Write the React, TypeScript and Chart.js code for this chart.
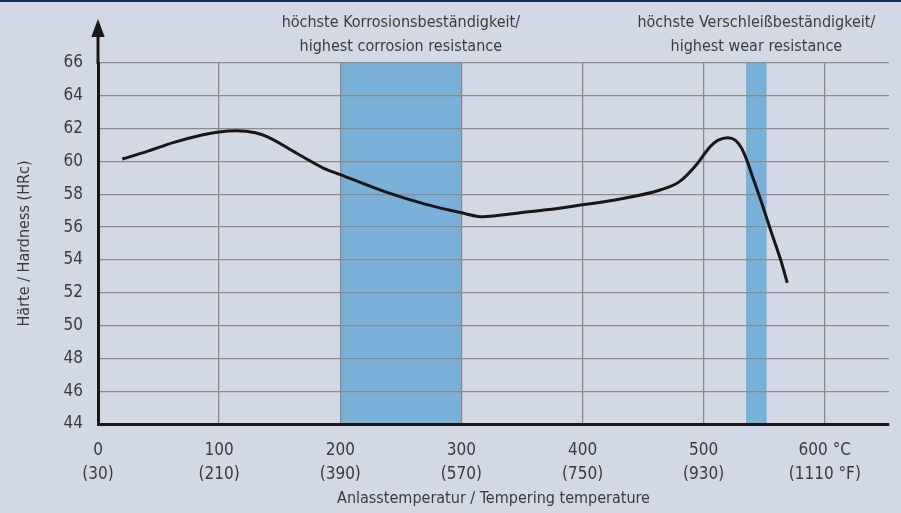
import React, { useEffect, useRef } from "react";
import { Chart, registerables } from "chart.js";

Chart.register(...registerables);

// Data
const temperatureC = [20, 40, 62, 85, 100, 114, 130, 140, 164, 186, 200, 241, 270, 300, 318, 340, 370, 398, 430, 464, 480, 494, 500, 506, 512, 520, 526, 531, 535, 540, 548, 556, 564, 569];
const hardnessHRC = [60.15, 60.6, 61.15, 61.6, 61.8, 61.87, 61.75, 61.5, 60.5, 59.6, 59.2, 58.05, 57.4, 56.87, 56.63, 56.8, 57.05, 57.34, 57.7, 58.26, 58.77, 59.8, 60.4, 60.95, 61.3, 61.45, 61.3, 60.85, 60.2, 59.15, 57.45, 55.65, 53.9, 52.6];

const xTicksC = [0, 100, 200, 300, 400, 500, 600];
const xTicksF = ["(30)", "(210)", "(390)", "(570)", "(750)", "(930)", "(1110 °F)"];

const bandStart = [200, 535];
const bandEnd = [300, 552];
const bandLabels = [
  ["höchste Korrosionsbeständigkeit/", "highest corrosion resistance"],
  ["höchste Verschleißbeständigkeit/", "highest wear resistance"],
];

const FONT = "'DejaVu Sans Condensed', 'Liberation Sans Narrow', sans-serif";
const TEXT = "#3a3a3a";
const BG = "#d2d9e5";
const BAND = "#79b0d8";

const decorPlugin = {
  id: "decor",
  beforeDraw(chart: any) {
    const { ctx, chartArea, scales } = chart;
    ctx.save();
    ctx.fillStyle = BG;
    ctx.fillRect(0, 0, chart.width, chart.height);
    ctx.fillStyle = "#0f2d55";
    ctx.fillRect(0, 0, chart.width, 2);
    ctx.fillStyle = BAND;
    for (let i = 0; i < bandStart.length; i++) {
      const x1 = scales.x.getPixelForValue(bandStart[i]);
      const x2 = scales.x.getPixelForValue(bandEnd[i]);
      ctx.fillRect(x1, chartArea.top, x2 - x1, chartArea.bottom - chartArea.top);
    }
    ctx.restore();
  },
  afterDraw(chart: any) {
    const { ctx, chartArea, scales } = chart;
    ctx.save();
    // y axis arrow
    const x = chartArea.left;
    ctx.strokeStyle = "#1a1718";
    ctx.lineWidth = 3;
    ctx.beginPath();
    ctx.moveTo(x, chartArea.top + 1);
    ctx.lineTo(x, 36);
    ctx.stroke();
    ctx.fillStyle = "#1a1718";
    ctx.beginPath();
    ctx.moveTo(x, 19);
    ctx.lineTo(x - 6.7, 37);
    ctx.lineTo(x + 6.7, 37);
    ctx.closePath();
    ctx.fill();
    // band labels
    ctx.fillStyle = TEXT;
    ctx.font = `16px ${FONT}`;
    ctx.textAlign = "center";
    ctx.textBaseline = "middle";
    for (let i = 0; i < bandStart.length; i++) {
      const cx = (scales.x.getPixelForValue(bandStart[i]) + scales.x.getPixelForValue(bandEnd[i])) / 2;
      ctx.fillText(bandLabels[i][0], cx, 23);
      ctx.fillText(bandLabels[i][1], cx, 47);
    }
    ctx.restore();
  },
};

export default function App() {
  const ref = useRef<HTMLCanvasElement>(null);
  useEffect(() => {
    document.body.style.margin = "0";
    const chart = new Chart(ref.current!, {
      type: "line",
      data: {
        datasets: [
          {
            data: temperatureC.map((t, i) => ({ x: t, y: hardnessHRC[i] })),
            borderColor: "#1a1617",
            borderWidth: 3,
            pointRadius: 0,
            cubicInterpolationMode: "monotone",
            fill: false,
          },
        ],
      },
      options: {
        animation: false,
        responsive: false,
        layout: { padding: { top: 63, right: 12, left: 0, bottom: 0 } },
        plugins: { legend: { display: false }, tooltip: { enabled: false } },
        scales: {
          x: {
            type: "linear",
            min: 0,
            max: 653,
            afterFit: (s: any) => { s.height = 89; },
            afterBuildTicks: (s: any) => { s.ticks = xTicksC.map((v) => ({ value: v })); },
            ticks: {
              autoSkip: false,
              maxRotation: 0,
              padding: 15,
              color: TEXT,
              font: { family: FONT, size: 17, lineHeight: 1.4 },
              callback: (v: any) => {
                const i = xTicksC.indexOf(Number(v));
                if (i < 0) return "";
                const top = i === xTicksC.length - 1 ? `${v} °C` : `${v}`;
                return [top, xTicksF[i]];
              },
            },
            grid: { color: "#8a8a8a", lineWidth: 1.3, drawTicks: false },
            border: { display: true, color: "#1a1718", width: 3 },
            title: {
              display: true,
              text: "Anlasstemperatur / Tempering temperature",
              color: TEXT,
              font: { family: FONT, size: 16, lineHeight: 1.2 },
              padding: { top: 0, bottom: 5 },
            },
          },
          y: {
            min: 44,
            max: 66,
            afterFit: (s: any) => { s.width = 98; },
            ticks: {
              stepSize: 2,
              padding: 15,
              color: TEXT,
              font: { family: FONT, size: 17 },
            },
            grid: { color: "#8a8a8a", lineWidth: 1.3, drawTicks: false },
            border: { display: true, color: "#1a1718", width: 3 },
            title: {
              display: true,
              text: "Härte / Hardness (HRc)",
              color: TEXT,
              font: { family: FONT, size: 16, lineHeight: 1.2 },
              padding: { top: 15, bottom: 0 },
            },
          },
        },
      },
      plugins: [decorPlugin],
    } as any);
    return () => chart.destroy();
  }, []);
  return (
    <div style={{ position: "fixed", left: 0, top: 0, width: 901, height: 513 }}>
      <canvas ref={ref} width={901} height={513} style={{ display: "block" }} />
    </div>
  );
}
